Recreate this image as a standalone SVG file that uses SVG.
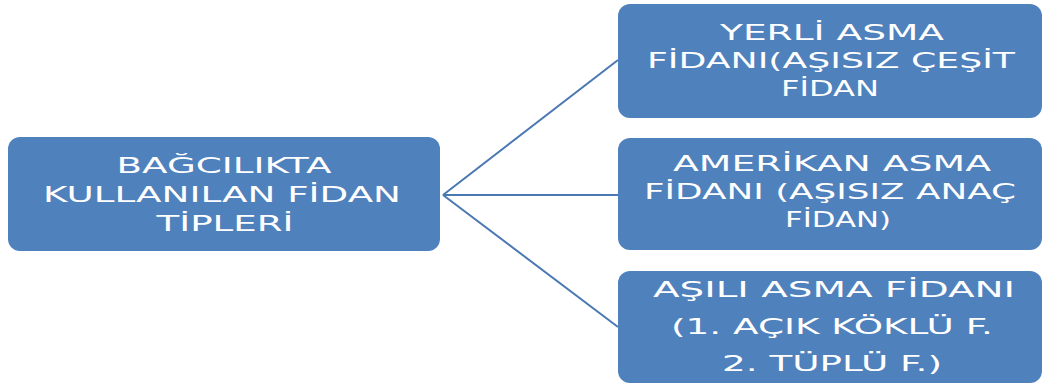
<svg xmlns="http://www.w3.org/2000/svg" width="1047" height="388" viewBox="0 0 1047 388">
<style>
.box{fill:#4F81BD;}
.t{font-family:"DejaVu Sans","Liberation Sans",sans-serif;font-size:21px;fill:#FFFFFF;text-anchor:middle;}
.c{stroke:#4A78B2;stroke-width:2;fill:none;}
</style>
<rect width="1047" height="388" fill="#FFFFFF"/>
<g id="connectors">
<line class="c" x1="443" y1="195" x2="618" y2="60"/>
<line class="c" x1="443" y1="195" x2="618" y2="195"/>
<line class="c" x1="443" y1="195" x2="618" y2="327"/>
</g>
<g id="node-root">
<rect class="box" x="8" y="137" width="432" height="114" rx="12"/>
<text class="t" x="224" y="173" textLength="215" lengthAdjust="spacingAndGlyphs">BAĞCILIKTA</text>
<text class="t" x="222" y="202" textLength="358" lengthAdjust="spacingAndGlyphs">KULLANILAN FİDAN</text>
<text class="t" x="225" y="231" textLength="137" lengthAdjust="spacingAndGlyphs">TİPLERİ</text>
</g>
<g id="node-yerli">
<rect class="box" x="618" y="4" width="424" height="114" rx="12"/>
<text class="t" x="832" y="40" textLength="224" lengthAdjust="spacingAndGlyphs">YERLİ ASMA</text>
<text class="t" x="831" y="68" textLength="368" lengthAdjust="spacingAndGlyphs">FİDANI(AŞISIZ ÇEŞİT</text>
<text class="t" x="830" y="96" textLength="98" lengthAdjust="spacingAndGlyphs">FİDAN</text>
</g>
<g id="node-amerikan">
<rect class="box" x="618" y="138" width="424" height="112" rx="12"/>
<text class="t" x="832" y="171" textLength="318" lengthAdjust="spacingAndGlyphs">AMERİKAN ASMA</text>
<text class="t" x="830" y="199" textLength="372" lengthAdjust="spacingAndGlyphs">FİDANI (AŞISIZ ANAÇ</text>
<text class="t" x="838" y="227" textLength="106" lengthAdjust="spacingAndGlyphs">FİDAN)</text>
</g>
<g id="node-asili">
<rect class="box" x="618" y="271" width="424" height="112" rx="12"/>
<text class="t" x="834" y="297" textLength="362" lengthAdjust="spacingAndGlyphs">AŞILI ASMA FİDANI</text>
<text class="t" x="832" y="334" textLength="322" lengthAdjust="spacingAndGlyphs">(1. AÇIK KÖKLÜ F.</text>
<text class="t" x="832" y="371" textLength="220" lengthAdjust="spacingAndGlyphs">2. TÜPLÜ F.)</text>
</g>
</svg>
